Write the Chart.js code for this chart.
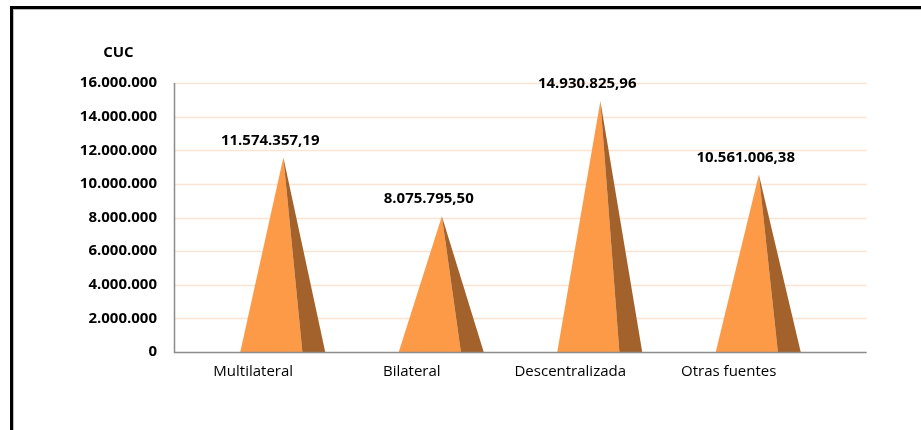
<!DOCTYPE html>
<html lang="es">
<head>
    <meta charset="UTF-8">
    <title>CUC por fuente</title>
    <script src="https://cdn.jsdelivr.net/npm/chart.js"></script>
    <style>
        html, body { margin: 0; padding: 0; background: #fff; overflow: hidden; }
        #wrap { position: relative; width: 921px; height: 430px; }
        #marco {
            position: absolute; left: 10px; top: 6px; width: 930px; height: 440px;
            border-left: 3px solid #000; border-top: 3px solid #000;
            box-shadow: inset 1px 1px 0 #bbb;
        }
        canvas { position: absolute; left: 0; top: 0; }
    </style>
</head>
<body>
<div id="wrap">
    <div id="marco"></div>
    <canvas id="grafico" width="921" height="430"></canvas>
</div>
<script>
    // datos
    const categorias = ['Multilateral', 'Bilateral', 'Descentralizada', 'Otras fuentes'];
    const valores = [11574357.19, 8075795.50, 14930825.96, 10561006.38];
    const ejeMax = 16000000;
    const ejePaso = 2000000;
    const unidad = 'CUC';

    // formato 11.574.357,19
    function formato(n, dec) {
        const partes = n.toFixed(dec).split('.');
        const entero = partes[0].replace(/\B(?=(\d{3})+(?!\d))/g, '.');
        return dec ? entero + ',' + partes[1] : entero;
    }

    const fuenteBold = { family: "'Open Sans', sans-serif", size: 15, weight: 'bold' };

    // pirámides dibujadas sobre las barras (invisibles)
    const piramides = {
        id: 'piramides',
        beforeDatasetsDraw(chart) {
            const { ctx, chartArea, scales } = chart;
            const y = scales.y;
            const banda = (chartArea.right - chartArea.left) / categorias.length;
            ctx.save();
            // líneas de cuadrícula, el suelo 3D se alarga a la derecha
            const extra = banda * 0.37;
            ctx.strokeStyle = '#fce4d2';
            ctx.lineWidth = 1.5;
            y.ticks.forEach(t => {
                if (t.value === 0) return;
                const py = Math.round(y.getPixelForValue(t.value)) + 0.5;
                ctx.beginPath();
                ctx.moveTo(chartArea.left, py);
                ctx.lineTo(chartArea.right + extra, py);
                ctx.stroke();
            });
            ctx.restore();
        },
        afterDatasetsDraw(chart) {
            const { ctx, chartArea, scales } = chart;
            const y = scales.y;
            const banda = (chartArea.right - chartArea.left) / categorias.length;
            const extra = banda * 0.37;
            const meta = chart.getDatasetMeta(0);
            ctx.save();
            meta.data.forEach((bar, i) => {
                const c = bar.x, top = bar.y, base = bar.base;
                const izq = c - banda * 0.082;
                const px = c + banda * 0.19;
                const med = c + banda * 0.31;
                const der = c + banda * 0.454;
                ctx.fillStyle = '#fd9a47';
                ctx.beginPath();
                ctx.moveTo(px, top);
                ctx.lineTo(izq, base);
                ctx.lineTo(med, base);
                ctx.closePath();
                ctx.fill();
                ctx.fillStyle = '#a3612b';
                ctx.beginPath();
                ctx.moveTo(px, top);
                ctx.lineTo(med, base);
                ctx.lineTo(der, base);
                ctx.closePath();
                ctx.fill();
                // etiqueta de valor
                ctx.fillStyle = '#000';
                ctx.font = "bold 15px 'Open Sans', sans-serif";
                ctx.textAlign = 'center';
                ctx.textBaseline = 'middle';
                ctx.fillText(formato(valores[i], 2), c + banda * 0.107, top - 17);
            });
            // ejes grises
            const y0 = Math.round(y.getPixelForValue(0)) + 0.5;
            ctx.strokeStyle = '#8c8c8c';
            ctx.lineWidth = 1.5;
            ctx.beginPath();
            ctx.moveTo(chartArea.left + 0.5, chartArea.top);
            ctx.lineTo(chartArea.left + 0.5, y0);
            ctx.lineTo(chartArea.right + extra, y0);
            ctx.stroke();
            // unidad, centrada sobre las etiquetas del eje
            ctx.fillStyle = '#000';
            ctx.font = "bold 15px 'Open Sans', sans-serif";
            const ancho = ctx.measureText(formato(ejeMax, 0)).width;
            ctx.textAlign = 'center';
            ctx.fillText(unidad, y.right - 17 - ancho / 2, 53);
            ctx.restore();
        }
    };

    const ctx = document.getElementById('grafico').getContext('2d');
    new Chart(ctx, {
        type: 'bar',
        data: {
            labels: categorias,
            datasets: [{
                data: valores,
                backgroundColor: 'rgba(0,0,0,0)',
                borderWidth: 0
            }]
        },
        options: {
            responsive: false,
            animation: false,
            layout: { padding: { left: 0, top: 83, right: 113, bottom: 0 } },
            plugins: {
                legend: { display: false },
                tooltip: { enabled: false }
            },
            scales: {
                x: {
                    grid: { display: false, drawTicks: false },
                    border: { display: false },
                    ticks: {
                        color: '#000',
                        padding: 11,
                        font: { family: "'Open Sans', sans-serif", size: 15 }
                    },
                    afterFit(s) { s.height = 78; }
                },
                y: {
                    min: 0,
                    max: ejeMax,
                    grid: { display: false, drawTicks: false },
                    border: { display: false },
                    ticks: {
                        stepSize: ejePaso,
                        color: '#000',
                        padding: 17,
                        font: fuenteBold,
                        callback: v => formato(v, 0)
                    },
                    afterFit(s) { s.width = 174; }
                }
            }
        },
        plugins: [piramides]
    });
</script>
</body>
</html>
